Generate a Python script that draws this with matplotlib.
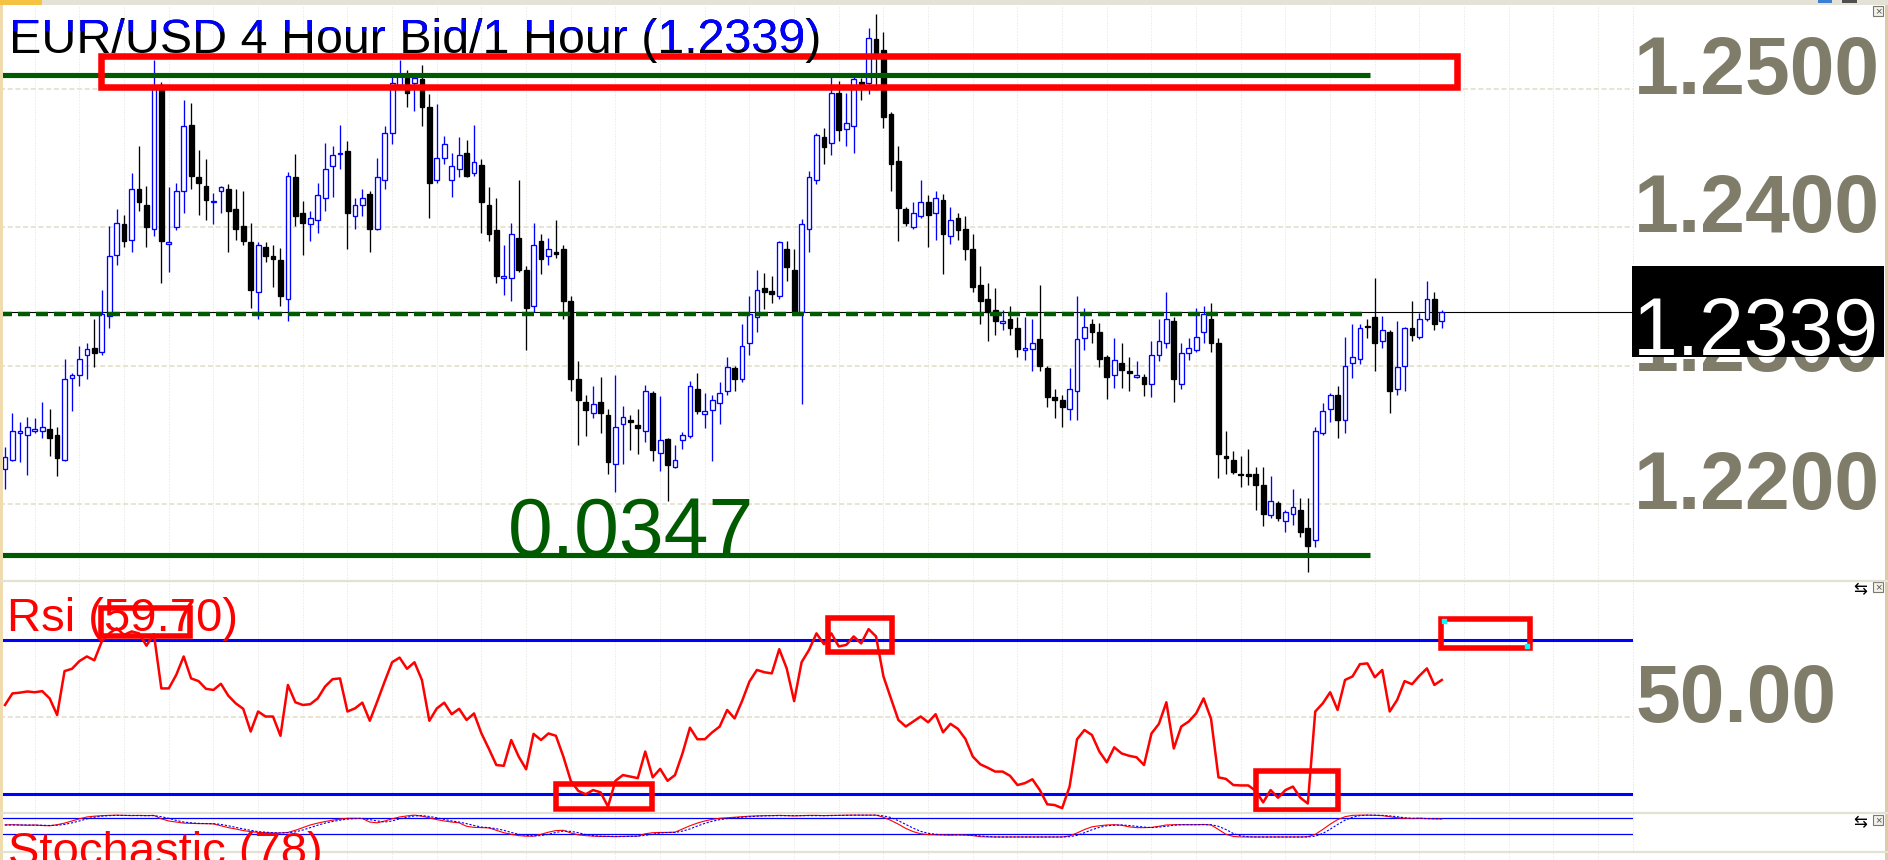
import numpy as np
import matplotlib.pyplot as plt
from matplotlib.patches import Rectangle
from matplotlib.lines import Line2D
from matplotlib.transforms import Bbox, IdentityTransform

plt.rcParams['font.family'] = ['Liberation Sans', 'DejaVu Sans']

# --- hourly EUR/USD bars ---
opens = [1.2225, 1.2232, 1.2251, 1.2250, 1.2253, 1.2253, 1.2254, 1.2250, 1.2232, 1.2291,
         1.2293, 1.2308, 1.2313, 1.2310, 1.2336, 1.2380, 1.2402, 1.2391, 1.2428, 1.2416,
         1.2399, 1.2503, 1.2388, 1.2400, 1.2426, 1.2474, 1.2436, 1.2430, 1.2418, 1.2426,
         1.2428, 1.2413, 1.2401, 1.2389, 1.2353, 1.2386, 1.2379, 1.2376, 1.2348, 1.2436,
         1.2410, 1.2402, 1.2405, 1.2421, 1.2444, 1.2453, 1.2455, 1.2408, 1.2416, 1.2424,
         1.2399, 1.2434, 1.2468, 1.2503, 1.2508, 1.2504, 1.2507, 1.2487, 1.2434, 1.2450,
         1.2434, 1.2442, 1.2454, 1.2439, 1.2445, 1.2416, 1.2398, 1.2363, 1.2363, 1.2392,
         1.2369, 1.2343, 1.2390, 1.2379, 1.2382, 1.2384, 1.2347, 1.2290, 1.2274, 1.2266,
         1.2274, 1.2264, 1.2229, 1.2258, 1.2261, 1.2257, 1.2253, 1.2280, 1.2237, 1.2247,
         1.2227, 1.2246, 1.2249, 1.2283, 1.2265, 1.2268, 1.2273, 1.2282, 1.2298, 1.2290,
         1.2316, 1.2335, 1.2356, 1.2354, 1.2350, 1.2384, 1.2369, 1.2339, 1.2399, 1.2434,
         1.2465, 1.2461, 1.2497, 1.2471, 1.2473, 1.2505, 1.2504, 1.2536, 1.2528, 1.2482,
         1.2448, 1.2413, 1.2400, 1.2408, 1.2418, 1.2410, 1.2420, 1.2394, 1.2407, 1.2399,
         1.2384, 1.2358, 1.2348, 1.2340, 1.2331, 1.2334, 1.2327, 1.2311, 1.2312, 1.2319,
         1.2298, 1.2277, 1.2275, 1.2269, 1.2282, 1.2320, 1.2330, 1.2324, 1.2306, 1.2293,
         1.2302, 1.2296, 1.2292, 1.2292, 1.2287, 1.2308, 1.2316, 1.2332, 1.2287, 1.2309,
         1.2311, 1.2324, 1.2334, 1.2316, 1.2235, 1.2232, 1.2222, 1.2222, 1.2222, 1.2214,
         1.2192, 1.2201, 1.2188, 1.2193, 1.2196, 1.2183, 1.2174, 1.2251, 1.2269, 1.2279,
         1.2261, 1.2302, 1.2305, 1.2329, 1.2335, 1.2318, 1.2324, 1.2283, 1.2300, 1.2327,
         1.2321, 1.2334, 1.2348, 1.2332]
highs = [1.2241, 1.2266, 1.2259, 1.2263, 1.2262, 1.2274, 1.2269, 1.2256, 1.2305, 1.2295,
         1.2314, 1.2316, 1.2334, 1.2355, 1.2401, 1.2413, 1.2409, 1.2439, 1.2459, 1.2430,
         1.2521, 1.2505, 1.2429, 1.2432, 1.2492, 1.2490, 1.2456, 1.2449, 1.2425, 1.2430,
         1.2431, 1.2428, 1.2426, 1.2403, 1.2389, 1.2389, 1.2387, 1.2385, 1.2440, 1.2453,
         1.2419, 1.2412, 1.2432, 1.2461, 1.2459, 1.2474, 1.2462, 1.2421, 1.2428, 1.2426,
         1.2450, 1.2473, 1.2509, 1.2521, 1.2514, 1.2509, 1.2517, 1.2496, 1.2489, 1.2466,
         1.2454, 1.2465, 1.2463, 1.2474, 1.2449, 1.2429, 1.2421, 1.2387, 1.2403, 1.2434,
         1.2372, 1.2403, 1.2395, 1.2392, 1.2405, 1.2387, 1.2350, 1.2303, 1.2279, 1.2285,
         1.2292, 1.2269, 1.2293, 1.2271, 1.2264, 1.2269, 1.2286, 1.2282, 1.2278, 1.2248,
         1.2243, 1.2252, 1.2289, 1.2295, 1.2280, 1.2279, 1.2288, 1.2306, 1.2300, 1.2330,
         1.2350, 1.2369, 1.2367, 1.2365, 1.2390, 1.2390, 1.2384, 1.2406, 1.2441, 1.2468,
         1.2472, 1.2509, 1.2506, 1.2497, 1.2509, 1.2508, 1.2544, 1.2554, 1.2541, 1.2483,
         1.2459, 1.2415, 1.2418, 1.2434, 1.2423, 1.2426, 1.2424, 1.2415, 1.2410, 1.2408,
         1.2395, 1.2372, 1.2360, 1.2356, 1.2340, 1.2343, 1.2335, 1.2335, 1.2334, 1.2358,
         1.2300, 1.2283, 1.2279, 1.2298, 1.2350, 1.2342, 1.2334, 1.2331, 1.2308, 1.2320,
         1.2316, 1.2306, 1.2303, 1.2294, 1.2318, 1.2334, 1.2353, 1.2335, 1.2316, 1.2320,
         1.2342, 1.2343, 1.2345, 1.2320, 1.2253, 1.2238, 1.2235, 1.2240, 1.2227, 1.2227,
         1.2220, 1.2202, 1.2196, 1.2211, 1.2204, 1.2204, 1.2256, 1.2273, 1.2280, 1.2285,
         1.2321, 1.2330, 1.2330, 1.2334, 1.2363, 1.2336, 1.2326, 1.2332, 1.2328, 1.2347,
         1.2338, 1.2361, 1.2353, 1.2340]
lows = [1.2211, 1.2231, 1.2230, 1.2221, 1.2251, 1.2248, 1.2235, 1.2220, 1.2231, 1.2267,
        1.2285, 1.2290, 1.2299, 1.2308, 1.2327, 1.2373, 1.2386, 1.2382, 1.2412, 1.2386,
        1.2394, 1.2360, 1.2368, 1.2398, 1.2410, 1.2428, 1.2409, 1.2405, 1.2402, 1.2410,
        1.2382, 1.2391, 1.2387, 1.2342, 1.2334, 1.2375, 1.2357, 1.2343, 1.2332, 1.2401,
        1.2380, 1.2390, 1.2396, 1.2412, 1.2422, 1.2442, 1.2384, 1.2399, 1.2408, 1.2382,
        1.2398, 1.2428, 1.2460, 1.2500, 1.2487, 1.2484, 1.2473, 1.2407, 1.2432, 1.2446,
        1.2422, 1.2436, 1.2436, 1.2437, 1.2396, 1.2390, 1.2360, 1.2351, 1.2347, 1.2368,
        1.2311, 1.2339, 1.2366, 1.2373, 1.2378, 1.2334, 1.2282, 1.2243, 1.2249, 1.2262,
        1.2251, 1.2222, 1.2209, 1.2229, 1.2239, 1.2236, 1.2245, 1.2231, 1.2224, 1.2202,
        1.2226, 1.2240, 1.2248, 1.2265, 1.2255, 1.2231, 1.2258, 1.2279, 1.2282, 1.2288,
        1.2308, 1.2324, 1.2341, 1.2345, 1.2348, 1.2361, 1.2338, 1.2272, 1.2382, 1.2431,
        1.2446, 1.2452, 1.2462, 1.2459, 1.2454, 1.2492, 1.2496, 1.2499, 1.2472, 1.2426,
        1.2390, 1.2401, 1.2399, 1.2407, 1.2386, 1.2391, 1.2366, 1.2388, 1.2391, 1.2376,
        1.2353, 1.2330, 1.2318, 1.2322, 1.2326, 1.2322, 1.2306, 1.2304, 1.2296, 1.2296,
        1.2270, 1.2262, 1.2256, 1.2261, 1.2261, 1.2311, 1.2316, 1.2299, 1.2276, 1.2284,
        1.2284, 1.2282, 1.2291, 1.2278, 1.2277, 1.2303, 1.2313, 1.2274, 1.2283, 1.2304,
        1.2310, 1.2316, 1.2310, 1.2219, 1.2222, 1.2222, 1.2212, 1.2214, 1.2196, 1.2184,
        1.2190, 1.2188, 1.2180, 1.2185, 1.2176, 1.2151, 1.2169, 1.2250, 1.2259, 1.2248,
        1.2251, 1.2291, 1.2301, 1.2320, 1.2296, 1.2313, 1.2266, 1.2279, 1.2282, 1.2318,
        1.2319, 1.2332, 1.2326, 1.2327]
closes = [1.2234, 1.2253, 1.2253, 1.2256, 1.2254, 1.2256, 1.2248, 1.2233, 1.2290, 1.2293,
          1.2305, 1.2312, 1.2309, 1.2337, 1.2379, 1.2403, 1.2390, 1.2428, 1.2418, 1.2400,
          1.2501, 1.2390, 1.2389, 1.2426, 1.2473, 1.2437, 1.2432, 1.2420, 1.2419, 1.2429,
          1.2412, 1.2399, 1.2390, 1.2355, 1.2387, 1.2379, 1.2377, 1.2350, 1.2437, 1.2408,
          1.2403, 1.2407, 1.2423, 1.2442, 1.2452, 1.2454, 1.2410, 1.2416, 1.2421, 1.2399,
          1.2436, 1.2468, 1.2504, 1.2511, 1.2497, 1.2508, 1.2487, 1.2432, 1.2450, 1.2460,
          1.2444, 1.2452, 1.2437, 1.2447, 1.2418, 1.2395, 1.2365, 1.2365, 1.2395, 1.2369,
          1.2342, 1.2387, 1.2377, 1.2384, 1.2381, 1.2347, 1.2290, 1.2275, 1.2268, 1.2272,
          1.2266, 1.2230, 1.2256, 1.2263, 1.2259, 1.2255, 1.2282, 1.2239, 1.2246, 1.2228,
          1.2232, 1.2250, 1.2285, 1.2267, 1.2267, 1.2275, 1.2280, 1.2299, 1.2290, 1.2314,
          1.2337, 1.2355, 1.2353, 1.2352, 1.2389, 1.2371, 1.2339, 1.2402, 1.2436, 1.2467,
          1.2458, 1.2497, 1.2470, 1.2475, 1.2507, 1.2503, 1.2537, 1.2525, 1.2480, 1.2446,
          1.2414, 1.2403, 1.2410, 1.2418, 1.2409, 1.2421, 1.2395, 1.2405, 1.2398, 1.2384,
          1.2357, 1.2347, 1.2339, 1.2332, 1.2332, 1.2327, 1.2312, 1.2313, 1.2316, 1.2300,
          1.2277, 1.2275, 1.2270, 1.2283, 1.2319, 1.2328, 1.2324, 1.2305, 1.2292, 1.2304,
          1.2297, 1.2295, 1.2293, 1.2287, 1.2308, 1.2318, 1.2334, 1.2290, 1.2309, 1.2313,
          1.2321, 1.2337, 1.2316, 1.2236, 1.2233, 1.2223, 1.2221, 1.2220, 1.2214, 1.2193,
          1.2202, 1.2190, 1.2194, 1.2198, 1.2180, 1.2170, 1.2253, 1.2267, 1.2279, 1.2261,
          1.2300, 1.2306, 1.2327, 1.2328, 1.2316, 1.2326, 1.2282, 1.2299, 1.2327, 1.2322,
          1.2334, 1.2348, 1.2330, 1.2339]

rsi = [53.2, 56.2, 56.4, 56.7, 56.5, 56.8, 54.9, 50.6, 62.0, 62.6,
       64.6, 65.8, 64.8, 69.7, 71.8, 73.1, 71.4, 72.3, 71.8, 68.6,
       71.6, 57.5, 57.5, 61.0, 65.8, 60.1, 59.4, 57.4, 57.1, 58.7,
       55.6, 53.6, 52.2, 46.3, 51.5, 50.2, 50.2, 45.2, 58.4, 53.9,
       53.2, 53.4, 54.9, 58.0, 59.9, 60.1, 51.5, 52.3, 53.8, 49.1,
       54.1, 59.3, 64.3, 65.5, 62.6, 64.3, 59.7, 49.1, 52.3, 53.8,
       50.8, 52.2, 49.3, 51.0, 45.8, 41.8, 37.6, 37.4, 44.1, 39.8,
       36.5, 45.7, 44.1, 45.8, 45.2, 39.8, 33.5, 30.9, 30.0, 31.1,
       30.5, 26.8, 33.5, 35.0, 34.6, 34.2, 41.1, 34.4, 36.6, 33.5,
       35.0, 40.6, 47.3, 44.3, 44.3, 46.1, 47.6, 51.9, 49.7, 54.2,
       59.3, 62.3, 61.7, 61.4, 67.7, 62.7, 54.2, 64.3, 67.5, 71.8,
       69.0, 71.8, 68.4, 68.8, 71.0, 69.2, 72.9, 71.0, 60.6, 54.9,
       49.3, 47.6, 48.9, 50.2, 48.7, 50.8, 46.1, 48.3, 47.0, 44.4,
       39.8, 37.8, 36.9, 35.9, 35.9, 34.8, 32.4, 32.9, 33.9, 31.1,
       27.4, 27.2, 26.4, 32.0, 44.3, 46.7, 45.4, 41.1, 38.3, 42.2,
       40.6, 40.0, 39.6, 37.6, 45.8, 48.3, 53.9, 41.9, 47.6, 48.9,
       51.0, 54.9, 49.6, 34.4, 34.0, 32.4, 32.3, 32.3, 30.9, 27.9,
       31.1, 29.1, 31.1, 32.0, 29.1, 27.6, 51.5, 53.6, 56.5, 51.9,
       59.7, 60.6, 63.8, 64.0, 60.4, 62.3, 51.5, 54.5, 59.4, 58.6,
       60.8, 62.7, 58.4, 59.7]

stoch_k = [55, 56, 55, 54, 55, 53, 52, 56, 62, 70, 78, 85, 88, 90, 91, 92, 91, 90, 91, 90,
           91, 78, 70, 66, 62, 61, 60, 60, 59, 52, 45, 40, 34, 30, 27, 26, 25, 25, 27, 35,
           45, 55, 62, 68, 73, 77, 80, 80, 79, 66, 63, 70, 78, 85, 89, 92, 88, 82, 75, 70,
           66, 63, 50, 46, 45, 44, 35, 26, 20, 15, 13, 13, 20, 28, 34, 35, 25, 18, 15, 13,
           12, 12, 11, 12, 13, 13, 22, 26, 27, 27, 28, 40, 52, 62, 70, 76, 80, 82, 84, 86,
           88, 89, 90, 90, 91, 90, 89, 90, 91, 91, 90, 91, 91, 92, 92, 92, 92, 92, 84, 72,
           58, 42, 30, 22, 19, 18, 18, 17, 18, 17, 15, 11, 10, 10, 10, 10, 10, 10, 10, 10,
           10, 10, 10, 14, 25, 38, 48, 52, 55, 56, 54, 48, 45, 45, 46, 50, 55, 56, 56, 56,
           56, 57, 55, 38, 20, 12, 10, 10, 10, 10, 10, 10, 10, 10, 10, 11, 20, 38, 58, 75,
           86, 91, 92, 92, 91, 90, 86, 82, 80, 79, 80, 79, 78, 78]
stoch_d = [55, 55, 55, 55, 54, 54, 53, 54, 57, 63, 70, 78, 84, 88, 90, 91, 91, 91, 90, 90,
           90, 86, 80, 72, 66, 63, 61, 60, 60, 57, 52, 46, 40, 35, 30, 28, 26, 25, 26, 29,
           36, 45, 54, 62, 68, 73, 77, 79, 80, 75, 70, 66, 70, 78, 84, 89, 90, 87, 82, 76,
           70, 66, 60, 53, 47, 45, 41, 35, 27, 20, 16, 14, 15, 20, 27, 32, 31, 26, 19, 15,
           13, 12, 12, 12, 12, 13, 16, 20, 25, 27, 27, 32, 40, 51, 61, 69, 75, 79, 82, 84,
           86, 88, 89, 90, 90, 90, 90, 90, 90, 90, 90, 90, 91, 91, 92, 92, 92, 92, 89, 83,
           71, 57, 43, 31, 24, 20, 18, 18, 18, 18, 17, 14, 12, 10, 10, 10, 10, 10, 10, 10,
           10, 10, 10, 11, 16, 26, 37, 46, 52, 54, 55, 53, 50, 47, 45, 47, 50, 54, 56, 56,
           56, 56, 56, 50, 38, 23, 14, 11, 10, 10, 10, 10, 10, 10, 10, 10, 13, 23, 39, 57,
           73, 84, 90, 92, 92, 91, 89, 86, 82, 80, 80, 79, 79, 78]

price_levels = [1.2500, 1.2400, 1.2300, 1.2200]
rsi_levels = [70, 30]
rsi_mid = 50
stoch_levels = [80, 20]

# drawn objects: range lines, support, boxes (bar index / value units)
range_top = 1.2510
range_bottom = 1.2163
support = 1.2337
range_end = 183.4
support_end = 182.3
price_box = (12.96, 195.05, 1.25016, 1.25237)
rsi_boxes = [(12.96, 24.85, 71.0, 78.5), (110.6, 119.1, 67.0, 75.7),
             (168.1, 179.1, 25.9, 36.05), (192.9, 204.9, 68.0, 75.5),
             (74.0, 86.9, 26.05, 32.8)]

W, H = 1888, 860
PLOT_R = 1633
GREEN = '#005a00'
BLUE = '#0000ff'
LABEL = '#7f7d6a'
GRID = '#e8e4d2'
px = IdentityTransform()

fig = plt.figure(figsize=(W / 100, H / 100), dpi=100)
fig.patch.set_facecolor('white')


def panel(top, bottom):
    return fig.add_axes([0, 1 - bottom / H, PLOT_R / W, (bottom - top) / H])


ax = panel(5, 581)
ax2 = panel(581, 813)
ax3 = panel(813, 860)
xlim = (-0.672, 218.68)
for a in (ax, ax2, ax3):
    a.set_xlim(*xlim)
    a.set_axis_off()
    for xv in np.arange(4, 219, 6):
        a.axvline(xv, color='#e2e2d8', lw=0.72, ls=(0, (1, 2)), zorder=0)
ax.set_ylim(1.214436, 1.256063)
ax2.set_ylim(25.14, 85.4)
ax3.set_ylim(-76.4, 99.9)

grid_kw = dict(color=GRID, lw=1.44, ls=(0, (2.5, 1.35)), zorder=0)
for lv in price_levels:
    ax.axhline(lv, **grid_kw)
ax2.axhline(rsi_mid, **grid_kw)

# candles
o, h, l, c = (np.array(v) for v in (opens, highs, lows, closes))
x = np.arange(len(c))
up = c >= o
ax.vlines(x[up], l[up], h[up], color=BLUE, lw=0.95, zorder=2)
ax.vlines(x[~up], l[~up], h[~up], color='black', lw=0.95, zorder=2)
lo = np.minimum(o, c)
hh = np.maximum(np.abs(c - o), 0.00002)
ax.bar(x[up], hh[up], bottom=lo[up], width=0.64, color='white',
       edgecolor=BLUE, lw=0.95, zorder=3)
ax.bar(x[~up], hh[~up], bottom=lo[~up], width=0.64, color='black',
       edgecolor='black', lw=0.95, zorder=3)

ax.axhline(c[-1], color='black', lw=0.8, zorder=1.5)
ax.hlines([range_top, range_bottom], xlim[0], range_end, color=GREEN, lw=3.7, zorder=4)
ax.plot([xlim[0], support_end], [support, support], color=GREEN, lw=3.2,
        dashes=(2.7, 1.35), dash_capstyle='butt', zorder=4)
bx0, bx1, by0, by1 = price_box
ax.add_patch(Rectangle((bx0, by0), bx1 - bx0, by1 - by0, fill=False, ec='red',
                       lw=4.7, joinstyle='miter', zorder=6, clip_on=False))
ax.text(67.6, range_bottom, f'{range_top - range_bottom:.4f}', color=GREEN,
        fontsize=58, ha='left', va='baseline', zorder=5)

# RSI panel
for lv in rsi_levels:
    ax2.axhline(lv, color=BLUE, lw=2.2, zorder=2)
ax2.plot(x, rsi, color='red', lw=1.8, zorder=3)
ax2.text(6.7, H - 631, f'Rsi ({rsi[-1]:.2f})', transform=px, color='red',
         fontsize=34, ha='left', va='baseline', zorder=5, clip_on=False)
for rx0, rx1, ry0, ry1 in rsi_boxes:
    ax2.add_patch(Rectangle((rx0, ry0), rx1 - rx0, ry1 - ry0, fill=False, ec='red',
                            lw=4.0, joinstyle='miter', zorder=6, clip_on=False))
sel = rsi_boxes[3]
ax2.plot([sel[0] + 0.4, sel[1] - 0.4], [sel[3] - 0.6, sel[2] + 0.6], 's',
         color='#00ffff', ms=2.5, zorder=7, clip_on=False)

# Stochastic panel
for lv in stoch_levels:
    ax3.axhline(lv, color=BLUE, lw=0.9, zorder=2)
ax3.plot(x, stoch_k, color='red', lw=0.8, zorder=3)
ax3.plot(x, stoch_d, color=BLUE, lw=0.8, dashes=(2, 1.5), zorder=3)
fig.text(8, H - 865, f'Stochastic ({stoch_k[-1]})', transform=px, color='red',
         fontsize=34, ha='left', va='baseline')

# title, black with blue top band
title = f'EUR/USD 4 Hour Bid/1 Hour ({closes[-1]:.4f})'
fig.text(9, H - 53.3, title, transform=px, fontsize=34.8, color='black', va='baseline')
for clip in [(0, H - 31, W, H - 19), (654, H - 49, 806, H - 19)]:
    tb = fig.text(9, H - 53.3, title, transform=px, fontsize=34.8, color=BLUE, va='baseline')
    tb.set_clip_box(Bbox.from_extents(*clip))

# right-hand scale
for lv in price_levels:
    yp = ax.transData.transform((0, lv))[1]
    fig.text(1634, yp - 5, f'{lv:.4f}', transform=px, fontsize=58, fontweight='bold',
             color=LABEL, ha='left', va='baseline', zorder=3)
yp = ax2.transData.transform((0, rsi_mid))[1]
fig.text(1636, yp - 5, f'{rsi_mid:.2f}', transform=px, fontsize=58, fontweight='bold',
         color=LABEL, ha='left', va='baseline', zorder=3)
yc = ax.transData.transform((0, c[-1]))[1]
fig.add_artist(Rectangle((1632, yc - 45.5), 252, 91, transform=px, fc='black',
                         ec='none', zorder=8))
fig.text(1633, yc - 43.5, f'{c[-1]:.4f}', transform=px, fontsize=58, color='white',
         ha='left', va='baseline', zorder=9)

# window chrome
for yy in (581, 813, 851.7):
    fig.add_artist(Line2D([0, W], [H - yy, H - yy], transform=px, color='#e3e1d3', lw=1.6))
fig.add_artist(Line2D([PLOT_R, PLOT_R], [H - 851, H - 5], transform=px,
                      color='#dcdcd2', lw=0.72, ls=(0, (1, 2))))
fig.add_artist(Rectangle((0, H - 4.5), W, 4.5, transform=px, fc='#e4e2d6', ec='none'))
fig.add_artist(Rectangle((0, H - 4.5), 42, 4.5, transform=px, fc='#f5c242', ec='none'))
fig.add_artist(Rectangle((1818, H - 3), 14, 3, transform=px, fc='#3a7fd0', ec='none'))
fig.add_artist(Rectangle((1842, H - 3), 15, 3, transform=px, fc='#505050', ec='none'))
fig.add_artist(Rectangle((0, 0), 2.5, H - 4.5, transform=px, fc='#efdbad', ec='none'))
fig.add_artist(Rectangle((1885, 0), 3, H - 4.5, transform=px, fc='#dccba5', ec='none'))
for top in (6, 582, 815):
    fig.add_artist(Rectangle((1873, H - top - 10), 10, 10, transform=px, fc='#f2f1ea',
                             ec='#7a7a6a', lw=0.8))
    fig.text(1878, H - top - 5, '×', transform=px, fontsize=8, color='#555555',
             ha='center', va='center')
for top in (582, 815):
    fig.text(1860, H - top - 7, '⇆', transform=px, fontsize=12, color='black',
             ha='center', va='center', family=['DejaVu Sans'])

fig.savefig('out.png', dpi=100)
